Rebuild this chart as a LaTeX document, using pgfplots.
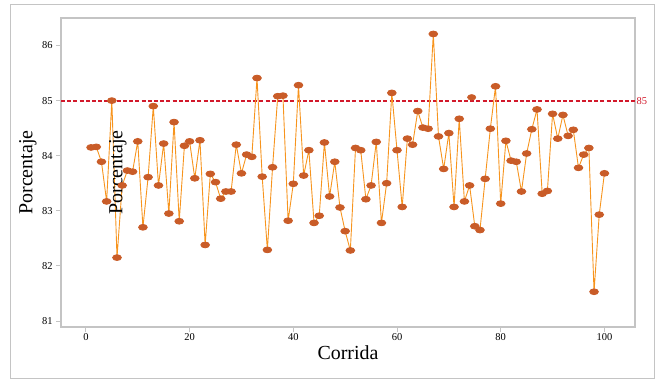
\documentclass[border=0pt]{standalone}
\usepackage{pgfplots}
\pgfplotsset{compat=1.18}
\usepackage{fontspec}
\setmainfont{Liberation Serif}
\definecolor{frameg}{HTML}{C4C4C4}
\definecolor{mk}{HTML}{C95C28}
\definecolor{ln}{HTML}{F7941D}
\definecolor{refred}{HTML}{D2192B}
\begin{document}
\begin{tikzpicture}[x=1bp,y=1bp]
\useasboundingbox (0,0) rectangle (657,381);
\draw[frameg, line width=1bp] (10,3) rectangle (654,376);
\begin{axis}[
  at={(61bp,54bp)}, anchor=south west,
  scale only axis, width=574bp, height=309bp,
  xmin=-4.8, xmax=105.9, ymin=80.89, ymax=86.5,
  xtick={0,20,40,60,80,100},
  ytick={81,82,83,84,85,86},
  tick align=outside, major tick length=5bp,
  xtick pos=bottom, ytick pos=left,
  axis line style={frameg, line width=1.3bp},
  tick style={frameg, line width=0.8bp},
  every tick label/.append style={font=\fontsize{10.5}{12}\selectfont, text=black},
  xticklabel style={yshift=2bp},
  /pgf/number format/assume math mode=true,
  xlabel={Corrida},
  xlabel style={font=\fontsize{20}{22}\selectfont, at={(axis description cs:0.5,0)}, anchor=north, yshift=-15bp},
  ylabel={Porcentaje},
  ylabel style={font=\fontsize{20}{22}\selectfont, at={(axis description cs:0,0.5)}, anchor=center, rotate=0, yshift=33bp},
  clip=false,
]
\addplot[refred, line width=2bp, dash pattern=on 4bp off 2.2bp] coordinates {(-4.8,85) (105.9,85)};
\addplot[ln, line width=0.9bp, mark=*, mark size=3.2bp,
  mark options={mk, fill=mk, draw=mk, xscale=1.35, yscale=0.9}] coordinates {
(1,84.15) (2,84.16) (3,83.89) (4,83.17) (5,85.00) (6,82.15) (7,83.46) (8,83.73) (9,83.71) (10,84.26)
(11,82.70) (12,83.61) (13,84.90) (14,83.46) (15,84.22) (16,82.95) (17,84.61) (18,82.81) (19,84.18) (20,84.26)
(21,83.59) (22,84.28) (23,82.38) (24,83.67) (25,83.52) (26,83.22) (27,83.35) (28,83.35) (29,84.20) (30,83.68)
(31,84.02) (32,83.98) (33,85.41) (34,83.62) (35,82.29) (36,83.79) (37,85.08) (38,85.09) (39,82.82) (40,83.49)
(41,85.28) (42,83.64) (43,84.10) (44,82.78) (45,82.91) (46,84.24) (47,83.26) (48,83.89) (49,83.06) (50,82.63)
(51,82.28) (52,84.14) (53,84.10) (54,83.21) (55,83.46) (56,84.25) (57,82.78) (58,83.50) (59,85.14) (60,84.10)
(61,83.07) (62,84.31) (63,84.20) (64,84.81) (65,84.51) (66,84.49) (67,86.21) (68,84.35) (69,83.76) (70,84.41)
(71,83.07) (72,84.67) (73,83.17) (74,83.46) (75,82.72) (76,82.65) (77,83.58) (78,84.49) (79,85.26) (80,83.13)
(81,84.27) (82,83.91) (83,83.89) (84,83.35) (85,84.04) (86,84.48) (87,84.84) (88,83.31) (89,83.36) (90,84.76)
(91,84.31) (92,84.74) (93,84.36) (94,84.47) (95,83.78) (96,84.02) (97,84.14) (98,81.53) (99,82.93) (100,83.68)
};
\addplot[only marks, mark=*, mark size=3.2bp,
  mark options={mk, fill=mk, draw=mk, xscale=1.35, yscale=0.9}] coordinates {(74.4,85.06)};
\node[anchor=west, text=refred, font=\fontsize{10.5}{12}\selectfont, inner sep=1.5bp] at (axis cs:105.9,85) {85};
\node[rotate=90, font=\fontsize{20}{22}\selectfont] at (axis description cs:0.0993,0.5) {Porcentaje};
\end{axis}
\end{tikzpicture}
\end{document}
